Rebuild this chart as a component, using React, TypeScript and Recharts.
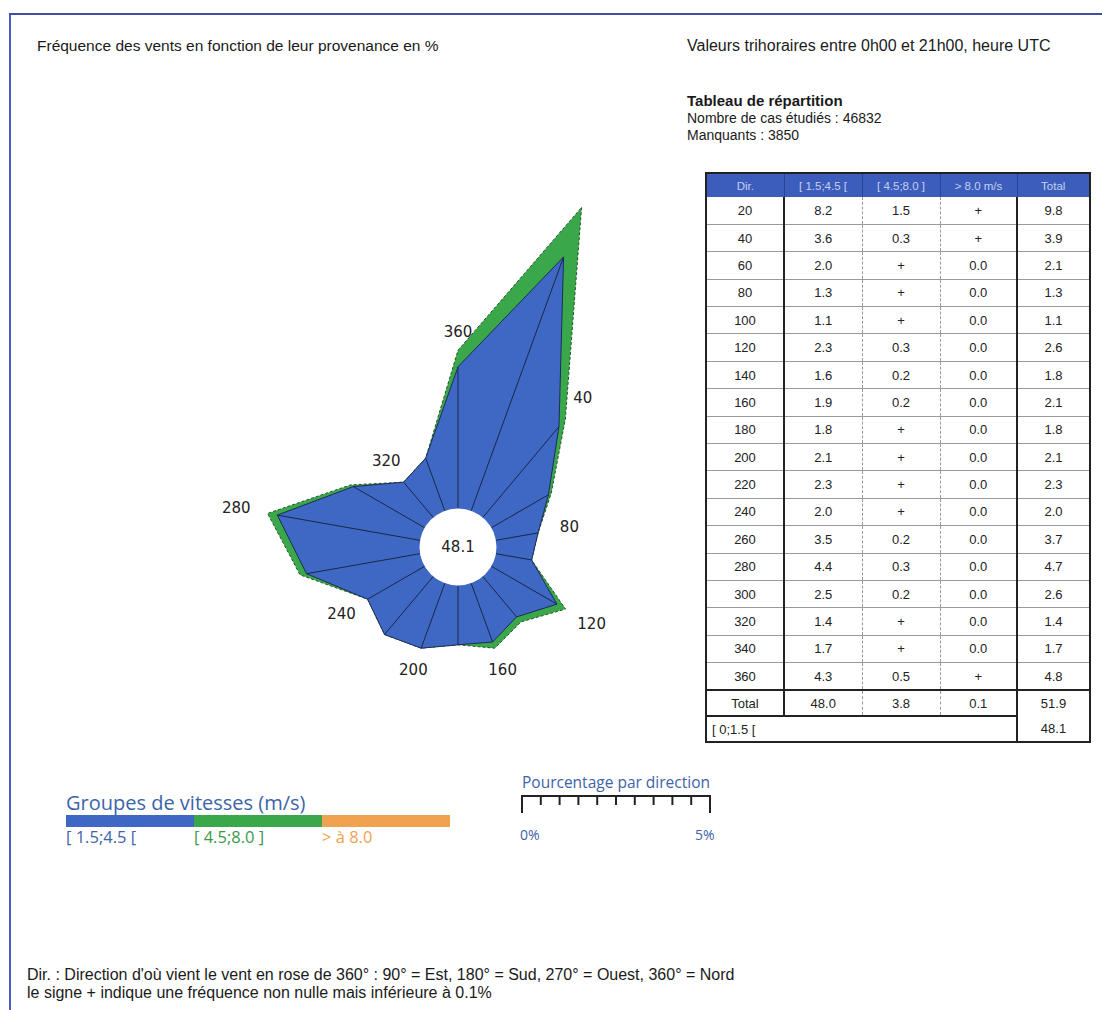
import React from 'react';
import { RadarChart, Radar, PolarAngleAxis, PolarRadiusAxis } from 'recharts';

// ---------- data ----------
const directions = [20, 40, 60, 80, 100, 120, 140, 160, 180, 200, 220, 240, 260, 280, 300, 320, 340, 360];
const lowSpeed = [8.2, 3.6, 2.0, 1.3, 1.1, 2.3, 1.6, 1.9, 1.8, 2.1, 2.3, 2.0, 3.5, 4.4, 2.5, 1.4, 1.7, 4.3]; // [1.5;4.5[
const lowSpeedText = ['8.2', '3.6', '2.0', '1.3', '1.1', '2.3', '1.6', '1.9', '1.8', '2.1', '2.3', '2.0', '3.5', '4.4', '2.5', '1.4', '1.7', '4.3'];
const midSpeedText = ['1.5', '0.3', '+', '+', '+', '0.3', '0.2', '0.2', '+', '+', '+', '+', '0.2', '0.3', '0.2', '+', '+', '0.5']; // [4.5;8.0]
const highSpeedText = ['+', '+', '0.0', '0.0', '0.0', '0.0', '0.0', '0.0', '0.0', '0.0', '0.0', '0.0', '0.0', '0.0', '0.0', '0.0', '0.0', '+']; // > 8.0
const totals = [9.8, 3.9, 2.1, 1.3, 1.1, 2.6, 1.8, 2.1, 1.8, 2.1, 2.3, 2.0, 3.7, 4.7, 2.6, 1.4, 1.7, 4.8];
const totalsText = ['9.8', '3.9', '2.1', '1.3', '1.1', '2.6', '1.8', '2.1', '1.8', '2.1', '2.3', '2.0', '3.7', '4.7', '2.6', '1.4', '1.7', '4.8'];
const columnTotals = ['Total', '48.0', '3.8', '0.1', '51.9'];
const tableHeaders = ['Dir.', '[ 1.5;4.5 [', '[ 4.5;8.0 ]', '> 8.0 m/s', 'Total'];
const calmLabel = '[ 0;1.5 [';
const calm = '48.1';
const labelledDirections = [40, 80, 120, 160, 200, 240, 280, 320, 360];
const speedGroups = ['[ 1.5;4.5 [', '[ 4.5;8.0 ]', '> à 8.0'];
const scaleTicks = [0, 0.5, 1, 1.5, 2, 2.5, 3, 3.5, 4, 4.5, 5];
const scaleLabels = ['0%', '5%'];

// ---------- styles ----------
const BLUE = '#3f67c4';
const GREEN = '#3aa84a';
const ORANGE = '#f0a24e';
const LEG_BLUE = '#3c64aa';
const INNER = 38.5;
const RAD = Math.PI / 180;
const polar = (cx: number, cy: number, r: number, a: number) => [cx + r * Math.cos(-a * RAD), cy + r * Math.sin(-a * RAD)];

const GreenShape = (props: any) => {
  const pts = props.points || [];
  return (
    <polygon
      points={pts.map((p: any) => `${p.x},${p.y}`).join(' ')}
      fill={GREEN}
      stroke="#24552b"
      strokeWidth={1}
      strokeDasharray="3 2"
    />
  );
};

const BlueShape = (props: any) => {
  const pts = props.points || [];
  if (!pts.length) return <g />;
  const cx = pts[0].cx;
  const cy = pts[0].cy;
  return (
    <g>
      <polygon points={pts.map((p: any) => `${p.x},${p.y}`).join(' ')} fill={BLUE} stroke="#1d2d55" strokeWidth={1} />
      {pts.map((p: any, i: number) => {
        const [x0, y0] = polar(cx, cy, INNER, p.angle);
        return <line key={i} x1={x0} y1={y0} x2={p.x} y2={p.y} stroke="#1a2748" strokeWidth={1} />;
      })}
      <circle cx={cx} cy={cy} r={INNER} fill="#fff" />
      <text x={cx} y={cy} textAnchor="middle" dominantBaseline="central" fontFamily="'DejaVu Sans', sans-serif" fontSize={15} fill="#222">
        {calm}
      </text>
    </g>
  );
};

const LabelShape = (props: any) => {
  const pts = props.points || [];
  return (
    <g>
      {pts.map((p: any, i: number) => {
        const dir = p.payload && p.payload.dir;
        if (!labelledDirections.includes(dir)) return null;
        const r = p.radius + 18 + 14 * Math.abs(Math.cos(p.angle * RAD));
        const [x, y] = polar(p.cx, p.cy, r, p.angle);
        return (
          <text key={i} x={x} y={y} textAnchor="middle" dominantBaseline="central" fontFamily="'DejaVu Sans', sans-serif" fontSize={15} fill="#222">
            {dir}
          </text>
        );
      })}
    </g>
  );
};

const abs = (left: number, centerY: number, size: number, extra: any = {}) => ({
  position: 'absolute' as const,
  left,
  top: centerY - size * 0.6,
  fontSize: size,
  lineHeight: `${size * 1.2}px`,
  whiteSpace: 'nowrap' as const,
  ...extra,
});

const colWidths = [78, 78, 78, 77, 73];
const cellBorderLeft = (c: number) => (c === 0 ? '2px solid #222' : c === 1 || c === 4 ? '2px solid #222' : '1px dashed #9a9a9a');

export default function App() {
  const data = directions.map((dir, i) => ({ dir, low: lowSpeed[i], total: totals[i] }));
  const rowH = 27.4;
  const scaleLeft = 522;
  const scaleWidth = 188;
  const scaleMax = scaleTicks[scaleTicks.length - 1];

  return (
    <div
      style={{
        position: 'absolute',
        left: 0,
        top: 0,
        width: 1102,
        height: 1010,
        overflow: 'hidden',
        background: '#fff',
        fontFamily: "'Liberation Sans', Arial, sans-serif",
        color: '#1a1a1a',
      }}
    >
      {/* frame */}
      <div style={{ position: 'absolute', left: 9, top: 13, width: 1200, height: 1100, borderLeft: '2px solid #4a5ac4', borderTop: '2px solid #3f4ea6' }} />

      <div style={{ position: 'absolute', left: 0, top: 0 }}>
        <RadarChart
          width={700}
          height={760}
          data={data}
          cx={458}
          cy={547}
          innerRadius={INNER}
          outerRadius={368}
          startAngle={70}
          endAngle={-290}
          margin={{ top: 0, right: 0, bottom: 0, left: 0 }}
        >
          <PolarAngleAxis dataKey="dir" tick={false} axisLine={false} tickLine={false} />
          <PolarRadiusAxis type="number" domain={[0, 10]} tick={false} axisLine={false} tickLine={false} />
          <Radar dataKey="total" isAnimationActive={false} shape={GreenShape} />
          <Radar dataKey="low" isAnimationActive={false} shape={BlueShape} />
          <Radar dataKey="total" isAnimationActive={false} shape={LabelShape} />
        </RadarChart>
      </div>

      <div style={abs(37, 46, 15.5)}>Fréquence des vents en fonction de leur provenance en %</div>
      <div style={abs(687, 46, 16)}>Valeurs trihoraires entre 0h00 et 21h00, heure UTC</div>
      <div style={abs(687, 101, 15, { fontWeight: 'bold' })}>Tableau de répartition</div>
      <div style={abs(687, 118, 14)}>Nombre de cas étudiés : 46832</div>
      <div style={abs(687, 135, 14)}>Manquants : 3850</div>

      {/* table */}
      <table
        style={{
          position: 'absolute',
          left: 705,
          top: 172,
          width: 384,
          borderCollapse: 'collapse',
          tableLayout: 'fixed',
          fontSize: 13,
          color: '#222',
          border: '2px solid #222',
        }}
      >
        <colgroup>
          {colWidths.map((w, i) => (
            <col key={i} style={{ width: w }} />
          ))}
        </colgroup>
        <tbody>
          <tr style={{ height: 24, background: '#3d5dbc' }}>
            {tableHeaders.map((h, c) => (
              <td key={c} style={{ color: '#c3d0f0', fontSize: 11.5, textAlign: 'center', padding: 0, borderLeft: c === 0 ? '2px solid #222' : '1px solid #2c4590' }}>
                {h}
              </td>
            ))}
          </tr>
          {directions.map((d, r) => {
            const cells = [String(d), lowSpeedText[r], midSpeedText[r], highSpeedText[r], totalsText[r]];
            return (
              <tr key={d} style={{ height: rowH }}>
                {cells.map((v, c) => (
                  <td
                    key={c}
                    style={{
                      textAlign: 'center',
                      padding: 0,
                      borderLeft: cellBorderLeft(c),
                      borderBottom: r === directions.length - 1 ? '2px solid #222' : '1px solid #9a9a9a',
                    }}
                  >
                    {v}
                  </td>
                ))}
              </tr>
            );
          })}
          <tr style={{ height: 26 }}>
            {columnTotals.map((v, c) => (
              <td key={c} style={{ textAlign: 'center', padding: 0, borderLeft: cellBorderLeft(c), borderBottom: c < 4 ? '2px solid #222' : 'none' }}>
                {v}
              </td>
            ))}
          </tr>
          <tr style={{ height: 26 }}>
            <td colSpan={4} style={{ textAlign: 'left', paddingLeft: 5, borderLeft: '2px solid #222' }}>
              {calmLabel}
            </td>
            <td style={{ textAlign: 'center', padding: 0, borderLeft: '2px solid #222' }}>{calm}</td>
          </tr>
        </tbody>
      </table>

      {/* speed groups legend */}
      <div style={abs(66, 803, 20, { fontFamily: "'Open Sans', sans-serif", color: LEG_BLUE })}>Groupes de vitesses (m/s)</div>
      {[BLUE, GREEN, ORANGE].map((col, i) => (
        <div key={i} style={{ position: 'absolute', left: 66 + i * 128, top: 815, width: 128, height: 12, background: col }} />
      ))}
      {speedGroups.map((g, i) => (
        <div key={i} style={abs(66 + i * 128, 837, 16.5, { fontFamily: "'Open Sans', sans-serif", color: [LEG_BLUE, '#3a9a48', ORANGE][i] })}>
          {g}
        </div>
      ))}

      {/* percentage scale */}
      <div style={abs(522, 782, 15.5, { fontFamily: "'Open Sans', sans-serif", color: LEG_BLUE })}>Pourcentage par direction</div>
      <svg style={{ position: 'absolute', left: 0, top: 0 }} width={1102} height={1010} pointerEvents="none">
        <line x1={scaleLeft} y1={796} x2={scaleLeft + scaleWidth} y2={796} stroke="#222" strokeWidth={2} />
        {scaleTicks.map((t, i) => {
          const x = scaleLeft + (t / scaleMax) * scaleWidth;
          const end = i === 0 || i === scaleTicks.length - 1;
          return <line key={i} x1={x} y1={795} x2={x} y2={end ? 813 : 805} stroke="#222" strokeWidth={2} />;
        })}
      </svg>
      <div style={abs(520, 835, 14, { fontFamily: "'Open Sans', sans-serif", color: LEG_BLUE })}>{scaleLabels[0]}</div>
      <div style={abs(695, 835, 14, { fontFamily: "'Open Sans', sans-serif", color: LEG_BLUE })}>{scaleLabels[1]}</div>

      {/* footnotes */}
      <div style={abs(27, 975, 16)}>Dir. : Direction d'où vient le vent en rose de 360° : 90° = Est, 180° = Sud, 270° = Ouest, 360° = Nord</div>
      <div style={abs(27, 993, 16)}>le signe + indique une fréquence non nulle mais inférieure à 0.1%</div>
    </div>
  );
}
